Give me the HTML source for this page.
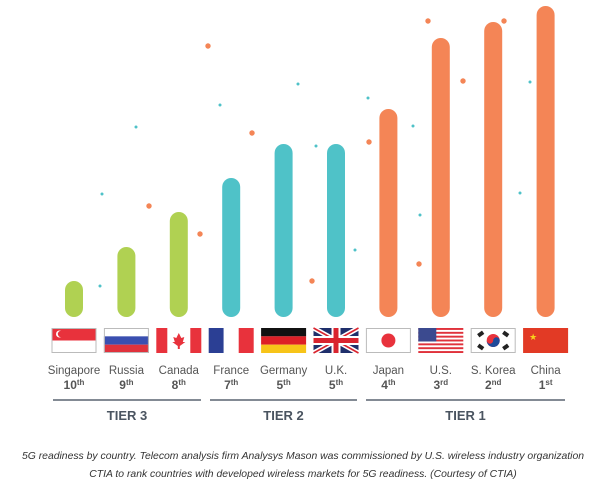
<!DOCTYPE html>
<html><head><meta charset="utf-8"><style>
html,body{margin:0;padding:0;background:#fff;width:602px;height:486px;overflow:hidden}
svg{display:block}
text{font-family:"Liberation Sans",sans-serif}
</style></head><body>
<svg id="chart" width="602" height="486" xmlns="http://www.w3.org/2000/svg">
<g id="dots"></g>
<g id="bars"></g>
<g id="flags"></g>
<g id="labels"></g>
<g id="tiers"></g>
<text x="303" y="459" text-anchor="middle" font-size="10.4" font-style="italic" fill="#333">5G readiness by country. Telecom analysis firm Analysys Mason was commissioned by U.S. wireless industry organization</text>
<text x="303" y="477" text-anchor="middle" font-size="10.4" font-style="italic" fill="#333">CTIA to rank countries with developed wireless markets for 5G readiness. (Courtesy of CTIA)</text>
</svg>
<script>
const countries=["Singapore","Russia","Canada","France","Germany","U.K.","Japan","U.S.","S. Korea","China"];
const rankNums=["10","9","8","7","5","5","4","3","2","1"];
const rankSuffix=["th","th","th","th","th","th","th","rd","nd","st"];
const scores=[36,70,105,139,173,173,208,279,295,311];
const tiers=[3,3,3,2,2,2,1,1,1,1];
const tierNames=["TIER 3","TIER 2","TIER 1"];
const tierColors={3:"#b0d152",2:"#4fc2c8",1:"#f48556"};
const NS="http://www.w3.org/2000/svg";
const x0=74,step=52.4,base=317;
function xPos(i){return x0+i*step;}
function yPos(v){return base-v;}
function mk(tag,attrs,parent){const e=document.createElementNS(NS,tag);for(const k in attrs)e.setAttribute(k,attrs[k]);parent.appendChild(e);return e;}
const bars=document.getElementById('bars');
scores.forEach((v,i)=>{
  const r=mk('rect',{x:xPos(i)-9,y:yPos(v),width:18,height:v,rx:9,fill:tierColors[tiers[i]]},bars);
  
  
});
const od=[[208,46],[149,206],[200,234],[252,133],[312,281],[369,142],[419,264],[428,21],[463,81],[504,21]];
const bd=[[102,194],[100,286],[136,127],[220,105],[298,84],[316,146],[355,250],[368,98],[413,126],[420,215],[520,193],[530,82]];
const dots=document.getElementById('dots');
od.forEach(p=>{const c=mk('circle',{cx:p[0],cy:p[1],r:2.7,fill:"#f48556"},dots);});
bd.forEach(p=>{const c=mk('circle',{cx:p[0],cy:p[1],r:1.5,fill:"#4fc2c8"},dots);});
const flags=document.getElementById('flags');
function flag(i){
  const g=mk('g',{transform:`translate(${xPos(i)-22.5},328)`},flags);
  
  
  const W=45,H=25;
  const R=(x,y,w,h,f)=>mk('rect',{x,y,width:w,height:h,fill:f},g);
  const B=()=>mk('rect',{x:0.5,y:0.5,width:44,height:24,fill:"none",stroke:"#bbb"},g);
  switch(i){
    case 0:R(0,0,W,H/2,"#e8323c");R(0,H/2,W,H/2,"#fff");mk('circle',{cx:8,cy:6,r:3.5,fill:"#fff"},g);mk('circle',{cx:9.5,cy:6,r:3.2,fill:"#e8323c"},g);B();break;
    case 1:R(0,0,W,H/3,"#fff");R(0,H/3,W,H/3,"#3a4fb0");R(0,2*H/3,W,H/3,"#e0323c");B();break;
    case 2:R(0,0,W,H,"#fff");R(0,0,11,H,"#e8323c");R(34,0,11,H,"#e8323c");mk('path',{d:"M22.5 5 L25 10 L28 9 L26.5 14 L29 14 L23.5 18 L23.5 21 L21.5 21 L21.5 18 L16 14 L18.5 14 L17 9 L20 10 Z",fill:"#e8323c"},g);break;
    case 3:R(0,0,15,H,"#2b3f94");R(15,0,15,H,"#fff");R(30,0,15,H,"#e8323c");break;
    case 4:R(0,0,W,H/3,"#111");R(0,H/3,W,H/3,"#dd1f26");R(0,2*H/3,W,H/3,"#f7c418");break;
    case 5:R(0,0,W,H,"#1f2f6b");mk('path',{d:"M0 0L45 25M45 0L0 25",stroke:"#fff","stroke-width":5},g);mk('path',{d:"M0 0L45 25M45 0L0 25",stroke:"#d9242f","stroke-width":1.6},g);R(18,0,9,H,"#fff");R(0,8,W,9,"#fff");R(20,0,5,H,"#d9242f");R(0,10,W,5,"#d9242f");break;
    case 6:R(0,0,W,H,"#fff");B();mk('circle',{cx:22.5,cy:12.5,r:7,fill:"#e8323c"},g);break;
    case 7:R(0,0,W,H,"#fff");for(let k=0;k<7;k++){R(0,k*25/6.5,W,25/13,"#e0323c");}R(0,0,18,13.5,"#3b4a8f");break;
    case 8:R(0,0,W,H,"#fff");B();mk('circle',{cx:22.5,cy:12.5,r:6.5,fill:"#e8323c"},g);mk('path',{d:"M16 12.5 A6.5 6.5 0 0 0 29 12.5 A3.25 3.25 0 0 0 22.5 12.5 A3.25 3.25 0 0 1 16 12.5Z",fill:"#1e4a9a"},g);
      [[10,6],[35,6],[10,19],[35,19]].forEach(p=>mk('rect',{x:p[0]-3,y:p[1]-2,width:6,height:4,fill:"#222",transform:`rotate(${(p[0]<20)==(p[1]<12)?-35:35} ${p[0]} ${p[1]})`},g));break;
    case 9:R(0,0,W,H,"#e23a25");mk('text',{x:6,y:12,"font-size":9,fill:"#f8d21c"},g).textContent="★";break;
  }
}
countries.forEach((c,i)=>flag(i));
const labels=document.getElementById('labels');
countries.forEach((c,i)=>{
  const t=mk('text',{x:xPos(i),y:374,"text-anchor":"middle","font-size":11.5,fill:"#555"},labels);
  t.textContent=c;
  
  
  const r=mk('text',{x:xPos(i),y:389,"text-anchor":"middle","font-size":12,"font-weight":"bold",fill:"#555"},labels);
  
  
  const a=document.createElementNS(NS,'tspan');a.textContent=rankNums[i];r.appendChild(a);
  const b=document.createElementNS(NS,'tspan');b.setAttribute('font-size','8');b.setAttribute('dy','-4');b.textContent=rankSuffix[i];r.appendChild(b);
});
const tierG=document.getElementById('tiers');
[[0,2,53,201],[3,5,210,357],[6,9,366,565]].forEach((t,k)=>{
  const l=mk('line',{x1:t[2],x2:t[3],y1:400,y2:400,stroke:"#5a6470","stroke-width":1.5},tierG);
  
  
  const tx=mk('text',{x:(t[2]+t[3])/2,y:420,"text-anchor":"middle","font-size":13,"font-weight":"bold",fill:"#4a5460"},tierG);
  tx.textContent=tierNames[k];
  
  
});
</script>
</body></html>
